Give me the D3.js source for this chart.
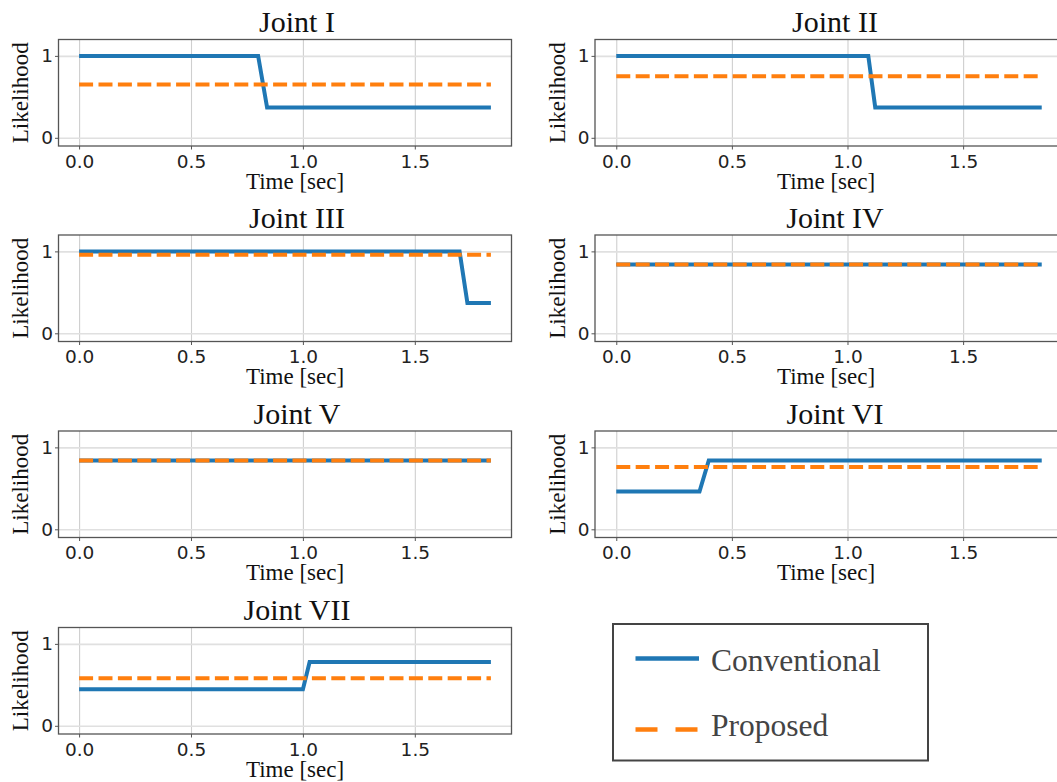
<!DOCTYPE html>
<html>
<head>
<meta charset="utf-8">
<script src="https://cdn.jsdelivr.net/npm/d3@7"></script>
<style>
  body { margin: 0; background: #fff; }
  svg { display: block; }
  .tick text { font-family: "DejaVu Sans", sans-serif; font-size: 18.5px; fill: #222; }
</style>
</head>
<body>
<svg id="chart" width="1057" height="782"></svg>
<script>
// joint names, one panel each
var joints = ["Joint I", "Joint II", "Joint III", "Joint IV", "Joint V", "Joint VI", "Joint VII"]

// conventional likelihood, [time, value] vertices
var conventional = [
  [[0, 1], [0.80, 1], [0.84, 0.37], [1.84, 0.37]],
  [[0, 1], [1.09, 1], [1.12, 0.37], [1.84, 0.37]],
  [[0, 1], [1.70, 1], [1.735, 0.37], [1.84, 0.37]],
  [[0, 0.84], [1.84, 0.84]],
  [[0, 0.84], [1.84, 0.84]],
  [[0, 0.46], [0.36, 0.46], [0.40, 0.84], [1.84, 0.84]],
  [[0, 0.445], [1.0, 0.445], [1.03, 0.78], [1.84, 0.78]]
]

// proposed likelihood is flat over the whole run
var proposed = [0.65, 0.75, 0.96, 0.84, 0.84, 0.76, 0.58]
var timeSpan = [0, 1.84]

var xTicks = [0, 0.5, 1.0, 1.5]
var yTicks = [0, 1]
var seriesNames = ["Conventional", "Proposed"]

var blue = "#1f77b4", orange = "#ff7f0e"
var svg = d3.select('#chart')

// layout of the 4x2 grid
var colX = [[58.5, 511.5], [595, 1063]]
var colTitle = [297, 835]
var colXLabel = [295, 826]
var rowTop = [39.5, 235, 431, 627.5]
var panelH = 106.5

var line = null

joints.forEach(function(name, i){
  var col = i % 2, row = Math.floor(i / 2)
  var x0 = colX[col][0], x1 = colX[col][1]
  var top = rowTop[row], bottom = top + panelH

  var x = d3.scaleLinear().domain([-0.092, 1.932]).range([x0, x1])
  var y = d3.scaleLinear().domain([-0.1, 1.2]).range([bottom, top])

  var g = svg.append('g')

  // grid
  g.append('g')
    .attr('transform', 'translate(0,' + bottom + ')')
    .call(d3.axisBottom(x).tickValues(xTicks).tickSize(-panelH).tickFormat(''))
    .call(function(s){
      s.select('.domain').remove()
      s.selectAll('line').attr('stroke', '#cfcfcf').attr('stroke-width', 1.1)
    })
  g.append('g')
    .attr('transform', 'translate(' + x0 + ',0)')
    .call(d3.axisLeft(y).tickValues(yTicks).tickSize(-(x1 - x0)).tickFormat(''))
    .call(function(s){
      s.select('.domain').remove()
      s.selectAll('line').attr('stroke', '#e0e0e0').attr('stroke-width', 1.6)
    })

  // axes with labels
  g.append('g')
    .attr('transform', 'translate(0,' + bottom + ')')
    .call(d3.axisBottom(x).tickValues(xTicks).tickSize(3.5).tickPadding(5).tickFormat(d3.format('.1f')))
    .call(function(s){
      s.select('.domain').remove()
      s.selectAll('line').attr('stroke', '#555')
    })
  g.append('g')
    .attr('transform', 'translate(' + x0 + ',0)')
    .call(d3.axisLeft(y).tickValues(yTicks).tickSize(3.5).tickPadding(2).tickFormat(d3.format('d')))
    .call(function(s){
      s.select('.domain').remove()
      s.selectAll('line').attr('stroke', '#555')
    })

  // clip for the data
  var clipId = 'clip' + i
  svg.append('clipPath').attr('id', clipId)
    .append('rect').attr('x', x0).attr('y', top).attr('width', x1 - x0).attr('height', panelH)

  line = d3.line().x(function(d){ return x(d[0]) }).y(function(d){ return y(d[1]) })

  g.append('path')
    .attr('clip-path', 'url(#' + clipId + ')')
    .attr('d', line(conventional[i]))
    .attr('fill', 'none')
    .attr('stroke', blue)
    .attr('stroke-width', 4)

  g.append('path')
    .attr('clip-path', 'url(#' + clipId + ')')
    .attr('d', line(timeSpan.map(function(t){ return [t, proposed[i]] })))
    .attr('fill', 'none')
    .attr('stroke', orange)
    .attr('stroke-width', 4)
    .attr('stroke-dasharray', '14,5.4')

  // frame
  g.append('rect')
    .attr('x', x0).attr('y', top).attr('width', x1 - x0).attr('height', panelH)
    .attr('fill', 'none').attr('stroke', '#555').attr('stroke-width', 1.3)

  g.append('text')
    .attr('x', colTitle[col]).attr('y', top - 7.5)
    .attr('text-anchor', 'middle')
    .attr('font-family', '"Liberation Serif", "Times New Roman", serif')
    .attr('font-size', 30)
    .attr('fill', '#111')
    .text(name)

  g.append('text')
    .attr('x', colXLabel[col]).attr('y', bottom + 42.5)
    .attr('text-anchor', 'middle')
    .attr('font-family', '"Liberation Serif", "Times New Roman", serif')
    .attr('font-size', 23)
    .attr('fill', '#111')
    .text('Time [sec]')

  g.append('text')
    .attr('transform', 'translate(' + (x0 - 30.5) + ',' + (top + panelH / 2) + ') rotate(-90)')
    .attr('text-anchor', 'middle')
    .attr('font-family', '"Liberation Serif", "Times New Roman", serif')
    .attr('font-size', 23)
    .attr('fill', '#111')
    .text('Likelihood')
})

// legend
var legend = svg.append('g')
legend.append('rect')
  .attr('x', 613).attr('y', 624).attr('width', 315).attr('height', 136.5)
  .attr('fill', '#fff').attr('stroke', '#444').attr('stroke-width', 2)

var legendY = d3.scalePoint().domain(seriesNames).range([658.5, 729.5])
var legendBaseline = d3.scalePoint().domain(seriesNames).range([670.5, 736])
seriesNames.forEach(function(s, k){
  legend.append('line')
    .attr('x1', 635.5).attr('x2', 699)
    .attr('y1', legendY(s)).attr('y2', legendY(s))
    .attr('stroke', k == 0 ? blue : orange)
    .attr('stroke-width', 4.5)
    .attr('stroke-dasharray', k == 0 ? null : '22,18')
  legend.append('text')
    .attr('x', 711).attr('y', legendBaseline(s))
    .attr('font-family', '"Liberation Serif", "Times New Roman", serif')
    .attr('font-size', 31.5)
    .attr('fill', '#444')
    .text(s)
})
</script>
</body>
</html>
